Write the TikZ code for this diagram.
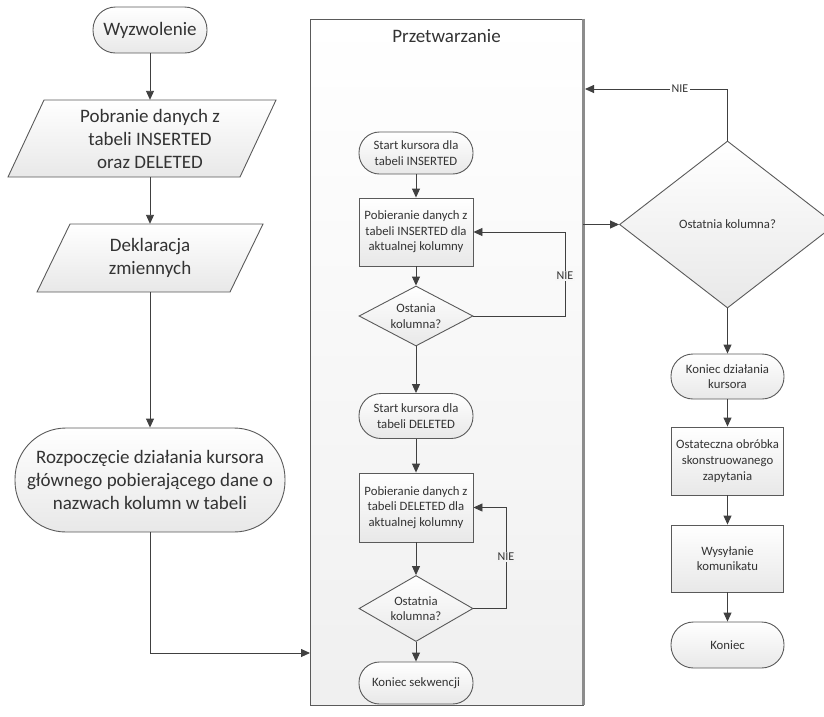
\documentclass[tikz,border=0pt]{standalone}
\usepackage{fontspec}
\setmainfont{Carlito}
\usetikzlibrary{arrows.meta,shapes.geometric}
\definecolor{ln}{HTML}{404040}
\definecolor{txt}{HTML}{333333}
\definecolor{bord}{HTML}{5a5a5a}
\tikzset{
  base/.style={draw=bord, line width=0.9pt, top color=white, bottom color=black!9, text=txt, align=center, inner sep=0pt},
  big/.style={font=\fontsize{19}{23}\selectfont},
  sm/.style={font=\fontsize{12.75}{15.6}\selectfont},
  term/.style={base, rectangle},
  proc/.style={base, rectangle},
  dec/.style={base, diamond, aspect=1.9},
  arr/.style={draw=ln, line width=0.9pt, -{Triangle[length=9pt,width=8pt]}},
  nie/.style={font=\fontsize{12}{14}\selectfont, text=txt, inner sep=1.5pt},
  lbl/.style={text=txt, align=center, inner sep=0pt},
}
\newcommand\paral[5]{%
  \path[base] ({#1-#3/2+#5/2},{#2-#4/2}) -- ++(#3,0) -- ++(-#5,#4) -- ++(-#3,0) -- cycle;}
\begin{document}
\begin{tikzpicture}[x=1pt,y=-1pt]
\useasboundingbox (0,0) rectangle (824,716);
% container
\node[draw=bord, line width=0.8pt, top color=white, bottom color=black!6, minimum width=273pt, minimum height=686pt, inner sep=0pt] (cont) at (446.5,362) {};
\draw[draw=black!45, line width=2.4pt] (cont.north east) -- (cont.south east);
\node[big, lbl] (title) at (446.5,36) {Przetwarzanie};

% left column
\node[term, big, minimum width=114pt, minimum height=46pt, rounded corners=22.5pt] (W) at (150,30) {Wyzwolenie};
\paral{142}{138.5}{232}{77}{36}
\node[big, lbl, minimum height=77pt] (P1) at (150,138.5) {Pobranie danych z\\tabeli INSERTED\\oraz DELETED};
\paral{150}{258}{193}{68}{33}
\node[big, lbl, minimum height=68pt] (P2) at (150,258) {Deklaracja\\zmiennych};
\node[term, big, minimum width=270pt, minimum height=104pt, rounded corners=51pt] (R) at (150,480) {Rozpoczęcie działania kursora\\głównego pobierającego dane o\\nazwach kolumn w tabeli};
\coordinate (cin) at (310,653);

\draw[arr] (W.south) -- (W.south |- P1.north);
\draw[arr] (P1.south) -- (P2.north);
\draw[arr] (P2.south) -- (R.north);
\draw[arr] (R.south) |- (cin);

% middle column
\node[term, sm, minimum width=114pt, minimum height=42pt, rounded corners=20.5pt] (s1) at (416,153) {Start kursora dla\\tabeli INSERTED};
\node[proc, sm, minimum width=114pt, minimum height=68pt] (r1) at (416,232) {Pobieranie danych z\\tabeli INSERTED dla\\aktualnej kolumny};
\node[dec, sm, minimum width=114pt, minimum height=60pt] (d1) at (416,316) {Ostania\\kolumna?};
\node[term, sm, minimum width=114pt, minimum height=45pt, rounded corners=22pt] (s2) at (416,416) {Start kursora dla\\tabeli DELETED};
\node[proc, sm, minimum width=114pt, minimum height=69pt] (r2) at (416,507.5) {Pobieranie danych z\\tabeli DELETED dla\\aktualnej kolumny};
\node[dec, sm, minimum width=114pt, minimum height=66pt] (d2) at (416,608.5) {Ostatnia\\kolumna?};
\node[term, sm, minimum width=114pt, minimum height=42pt, rounded corners=20.5pt] (s3) at (416,683) {Koniec sekwencji};

\draw[arr] (s1) -- (r1);
\draw[arr] (r1) -- (d1);
\draw[arr] (d1) -- (s2);
\draw[arr] (s2) -- (r2);
\draw[arr] (r2) -- (d2);
\draw[arr] (d2) -- (s3);

\coordinate (l1) at (565,316);
\draw[arr] (d1.east) -- (l1) |- (r1.east);
\node[nie, fill=black!3] (n1) at (565,276) {NIE};
\coordinate (l2) at (506,608.5);
\draw[arr] (d2.east) -- (l2) |- (r2.east);
\node[nie, fill=black!5] (n2) at (506,557) {NIE};

% right column
\node[dec, sm, minimum width=216pt, minimum height=167pt] (D) at (727.5,224.5) {Ostatnia kolumna?};
\coordinate (ctop) at (585,89);
\coordinate (cright) at (583,224.5);
\draw[arr] (D.north) |- (ctop);
\node[nie, fill=white] (n3) at (680,89) {NIE};
\draw[arr] (cright) -- (D.west);

\node[term, sm, minimum width=113pt, minimum height=45pt, rounded corners=22pt] (k1) at (727.5,376.5) {Koniec działania\\kursora};
\node[proc, sm, minimum width=112pt, minimum height=68pt] (r3) at (727.5,461) {Ostateczna obróbka\\skonstruowanego\\zapytania};
\node[proc, sm, minimum width=112pt, minimum height=67pt] (r4) at (727.5,558.5) {Wysyłanie\\komunikatu};
\node[term, sm, minimum width=113pt, minimum height=46pt, rounded corners=22.5pt] (k2) at (727.5,645) {Koniec};

\draw[arr] (D) -- (k1);
\draw[arr] (k1) -- (r3);
\draw[arr] (r3) -- (r4);
\draw[arr] (r4) -- (k2);
\end{tikzpicture}
\end{document}
